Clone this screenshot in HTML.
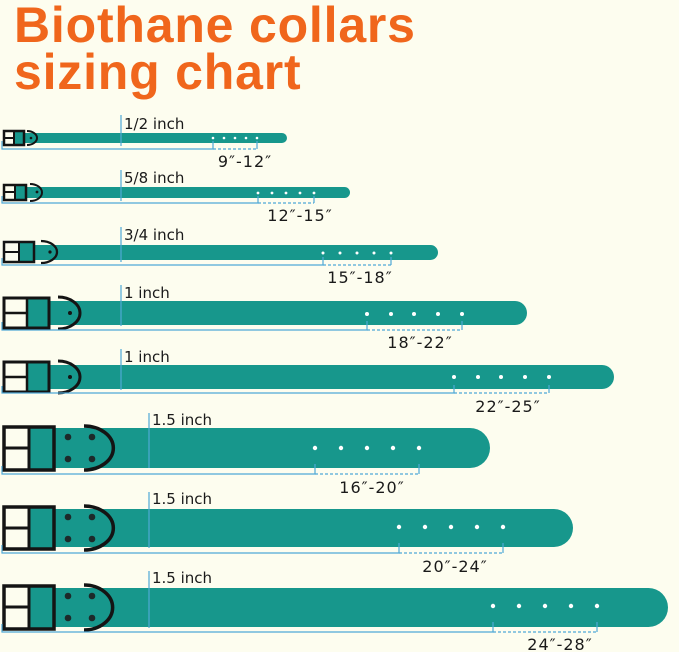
<!DOCTYPE html>
<html><head><meta charset="utf-8"><style>
html,body{margin:0;padding:0;background:#fdfdef;}
svg{display:block}
.t{font-family:"Liberation Sans",sans-serif;font-weight:bold;fill:#f0661c;font-size:50px;letter-spacing:0.8px}
.l{font-family:"DejaVu Sans","Liberation Sans",sans-serif;font-size:15px;fill:#1a1a1a}
.r{font-family:"DejaVu Sans","Liberation Sans",sans-serif;font-size:16px;fill:#1a1a1a}
.s{fill:#17978c}
.b{fill:none;stroke:#141414}
.bl{stroke:#4fa9d6;stroke-width:1.2;fill:none}
.d{stroke:#4fa9d6;stroke-width:1.2;stroke-dasharray:3 2;fill:none}
.h{fill:#fff}
</style></head><body>
<svg width="679" height="652" viewBox="0 0 679 652" xmlns="http://www.w3.org/2000/svg">
<rect width="679" height="652" fill="#fdfdef"/>
<text class="t" x="14" y="42">Biothane collars</text>
<text class="t" x="14" y="89">sizing chart</text>

<!-- 1 -->
<rect class="s" x="14" y="133" width="273" height="10" rx="5"/>
<rect x="14" y="131" width="9" height="14" fill="#17978c"/>
<rect class="b" stroke-width="2.5" x="4" y="131" width="20" height="14"/>
<line class="b" stroke-width="2" x1="14" y1="131" x2="14" y2="145"/><line class="b" stroke-width="2" x1="4" y1="138" x2="14" y2="138"/>
<path class="b" stroke-width="2" d="M27 131 A10 7 0 0 1 27 145"/><circle cx="31" cy="138" r="1.3" fill="#141414"/>
<line class="bl" x1="121" y1="115" x2="121" y2="146"/>
<polyline class="bl" points="2,141 2,149 213,149 213,141"/><line class="d" x1="213" y1="149" x2="257" y2="149"/><line class="bl" x1="257" y1="149" x2="257" y2="141"/>
<g class="h"><circle cx="213" cy="138" r="1.3"/><circle cx="224" cy="138" r="1.3"/><circle cx="235" cy="138" r="1.3"/><circle cx="246" cy="138" r="1.3"/><circle cx="257" cy="138" r="1.3"/></g>
<text class="l" x="124" y="129">1/2 inch</text><text class="r" x="245" y="167" text-anchor="middle" letter-spacing="1">9″-12″</text>

<!-- 2 -->
<rect class="s" x="15" y="187" width="335" height="11" rx="5.5"/>
<rect x="15" y="185" width="10" height="15" fill="#17978c"/>
<rect class="b" stroke-width="2.5" x="4" y="185" width="22" height="15"/>
<line class="b" stroke-width="2" x1="15" y1="185" x2="15" y2="200"/><line class="b" stroke-width="2" x1="4" y1="192" x2="15" y2="192"/>
<path class="b" stroke-width="2" d="M30 184 A12 8.5 0 0 1 30 201"/><circle cx="37" cy="192" r="1.4" fill="#141414"/>
<line class="bl" x1="121" y1="170" x2="121" y2="201"/>
<polyline class="bl" points="2,196 2,203 258,203 258,196"/><line class="d" x1="258" y1="203" x2="314" y2="203"/><line class="bl" x1="314" y1="203" x2="314" y2="196"/>
<g class="h"><circle cx="258" cy="193" r="1.4"/><circle cx="272" cy="193" r="1.4"/><circle cx="286" cy="193" r="1.4"/><circle cx="300" cy="193" r="1.4"/><circle cx="314" cy="193" r="1.4"/></g>
<text class="l" x="124" y="183">5/8 inch</text><text class="r" x="300" y="221" text-anchor="middle" letter-spacing="1">12″-15″</text>

<!-- 3 -->
<rect class="s" x="19" y="245" width="419" height="15" rx="7.5"/>
<rect x="19" y="242" width="15" height="20" fill="#17978c"/>
<rect class="b" stroke-width="2.5" x="4" y="242" width="30" height="20"/>
<line class="b" stroke-width="2" x1="19" y1="242" x2="19" y2="262"/><line class="b" stroke-width="2" x1="4" y1="252" x2="19" y2="252"/>
<path class="b" stroke-width="2.3" d="M41 241 A16 11 0 0 1 41 263"/><circle cx="50" cy="252" r="1.6" fill="#141414"/>
<line class="bl" x1="121" y1="227" x2="121" y2="262"/>
<polyline class="bl" points="2,258 2,265 323,265 323,257"/><line class="d" x1="323" y1="265" x2="391" y2="265"/><line class="bl" x1="391" y1="265" x2="391" y2="257"/>
<g class="h"><circle cx="323" cy="253" r="1.5"/><circle cx="340" cy="253" r="1.5"/><circle cx="357" cy="253" r="1.5"/><circle cx="374" cy="253" r="1.5"/><circle cx="391" cy="253" r="1.5"/></g>
<text class="l" x="124" y="240">3/4 inch</text><text class="r" x="360" y="283" text-anchor="middle" letter-spacing="1">15″-18″</text>

<!-- 4 -->
<rect class="s" x="27" y="301" width="500" height="24" rx="12"/>
<rect x="27" y="298" width="22" height="30" fill="#17978c"/>
<rect class="b" stroke-width="3" x="4" y="298" width="45" height="30"/>
<line class="b" stroke-width="2.5" x1="27" y1="298" x2="27" y2="328"/><line class="b" stroke-width="2.5" x1="4" y1="313" x2="27" y2="313"/>
<path class="b" stroke-width="3" d="M58 297 A22 16 0 0 1 58 329"/><circle cx="70" cy="313" r="2" fill="#141414"/>
<line class="bl" x1="121" y1="285" x2="121" y2="326"/>
<polyline class="bl" points="2,322 2,330 367,330 367,321"/><line class="d" x1="367" y1="330" x2="462" y2="330"/><line class="bl" x1="462" y1="330" x2="462" y2="321"/>
<g class="h"><circle cx="367" cy="314" r="2"/><circle cx="391" cy="314" r="2"/><circle cx="414" cy="314" r="2"/><circle cx="438" cy="314" r="2"/><circle cx="462" cy="314" r="2"/></g>
<text class="l" x="124" y="298">1 inch</text><text class="r" x="420" y="348" text-anchor="middle" letter-spacing="1">18″-22″</text>

<!-- 5 -->
<rect class="s" x="27" y="365" width="587" height="24" rx="12"/>
<rect x="27" y="362" width="22" height="30" fill="#17978c"/>
<rect class="b" stroke-width="3" x="4" y="362" width="45" height="30"/>
<line class="b" stroke-width="2.5" x1="27" y1="362" x2="27" y2="392"/><line class="b" stroke-width="2.5" x1="4" y1="377" x2="27" y2="377"/>
<path class="b" stroke-width="3" d="M58 361 A22 16 0 0 1 58 393"/><circle cx="70" cy="377" r="2" fill="#141414"/>
<line class="bl" x1="121" y1="349" x2="121" y2="390"/>
<polyline class="bl" points="2,386 2,393 454,393 454,385"/><line class="d" x1="454" y1="393" x2="549" y2="393"/><line class="bl" x1="549" y1="393" x2="549" y2="385"/>
<g class="h"><circle cx="454" cy="377" r="2"/><circle cx="478" cy="377" r="2"/><circle cx="501" cy="377" r="2"/><circle cx="525" cy="377" r="2"/><circle cx="549" cy="377" r="2"/></g>
<text class="l" x="124" y="362">1 inch</text><text class="r" x="508" y="412" text-anchor="middle" letter-spacing="1">22″-25″</text>

<!-- 6 -->
<rect class="s" x="30" y="428" width="460" height="40" rx="20"/>
<rect x="30" y="427" width="24" height="43" fill="#17978c"/>
<rect class="b" stroke-width="3.5" x="4" y="427" width="50" height="43"/>
<line class="b" stroke-width="3" x1="29" y1="427" x2="29" y2="470"/><line class="b" stroke-width="3" x1="4" y1="448" x2="29" y2="448"/>
<path class="b" stroke-width="3.5" d="M84 426 A28 21 0 0 1 84 470"/>
<g fill="#1d2a2a"><circle cx="68" cy="437" r="3.3"/><circle cx="92" cy="437" r="3.3"/><circle cx="68" cy="459" r="3.3"/><circle cx="92" cy="459" r="3.3"/></g>
<line class="bl" x1="149" y1="413" x2="149" y2="468"/>
<polyline class="bl" points="2,466 2,474 315,474 315,464"/><line class="d" x1="315" y1="474" x2="419" y2="474"/><line class="bl" x1="419" y1="474" x2="419" y2="464"/>
<g class="h"><circle cx="315" cy="448" r="2.2"/><circle cx="341" cy="448" r="2.2"/><circle cx="367" cy="448" r="2.2"/><circle cx="393" cy="448" r="2.2"/><circle cx="419" cy="448" r="2.2"/></g>
<text class="l" x="152" y="425">1.5 inch</text><text class="r" x="372" y="493" text-anchor="middle" letter-spacing="1">16″-20″</text>

<!-- 7 -->
<rect class="s" x="30" y="509" width="543" height="38" rx="19"/>
<rect x="30" y="507" width="24" height="42" fill="#17978c"/>
<rect class="b" stroke-width="3.5" x="4" y="507" width="50" height="42"/>
<line class="b" stroke-width="3" x1="29" y1="507" x2="29" y2="549"/><line class="b" stroke-width="3" x1="4" y1="528" x2="29" y2="528"/>
<path class="b" stroke-width="3.5" d="M84 506 A28 21 0 0 1 84 550"/>
<g fill="#1d2a2a"><circle cx="68" cy="517" r="3.3"/><circle cx="92" cy="517" r="3.3"/><circle cx="68" cy="539" r="3.3"/><circle cx="92" cy="539" r="3.3"/></g>
<line class="bl" x1="149" y1="492" x2="149" y2="548"/>
<polyline class="bl" points="2,545 2,553 399,553 399,543"/><line class="d" x1="399" y1="553" x2="503" y2="553"/><line class="bl" x1="503" y1="553" x2="503" y2="543"/>
<g class="h"><circle cx="399" cy="527" r="2.2"/><circle cx="425" cy="527" r="2.2"/><circle cx="451" cy="527" r="2.2"/><circle cx="477" cy="527" r="2.2"/><circle cx="503" cy="527" r="2.2"/></g>
<text class="l" x="152" y="504">1.5 inch</text><text class="r" x="455" y="572" text-anchor="middle" letter-spacing="1">20″-24″</text>

<!-- 8 -->
<rect class="s" x="30" y="588" width="638" height="39" rx="19.5"/>
<rect x="30" y="586" width="24" height="43" fill="#17978c"/>
<rect class="b" stroke-width="3.5" x="4" y="586" width="50" height="43"/>
<line class="b" stroke-width="3" x1="29" y1="586" x2="29" y2="629"/><line class="b" stroke-width="3" x1="4" y1="607" x2="29" y2="607"/>
<path class="b" stroke-width="3.5" d="M84 585 A28 22 0 0 1 84 630"/>
<g fill="#1d2a2a"><circle cx="68" cy="596" r="3.3"/><circle cx="92" cy="596" r="3.3"/><circle cx="68" cy="618" r="3.3"/><circle cx="92" cy="618" r="3.3"/></g>
<line class="bl" x1="149" y1="571" x2="149" y2="628"/>
<polyline class="bl" points="2,624 2,632 493,632 493,622"/><line class="d" x1="493" y1="632" x2="597" y2="632"/><line class="bl" x1="597" y1="632" x2="597" y2="622"/>
<g class="h"><circle cx="493" cy="606" r="2.2"/><circle cx="519" cy="606" r="2.2"/><circle cx="545" cy="606" r="2.2"/><circle cx="571" cy="606" r="2.2"/><circle cx="597" cy="606" r="2.2"/></g>
<text class="l" x="152" y="583">1.5 inch</text><text class="r" x="560" y="650" text-anchor="middle" letter-spacing="1">24″-28″</text>
</svg>
</body></html>
